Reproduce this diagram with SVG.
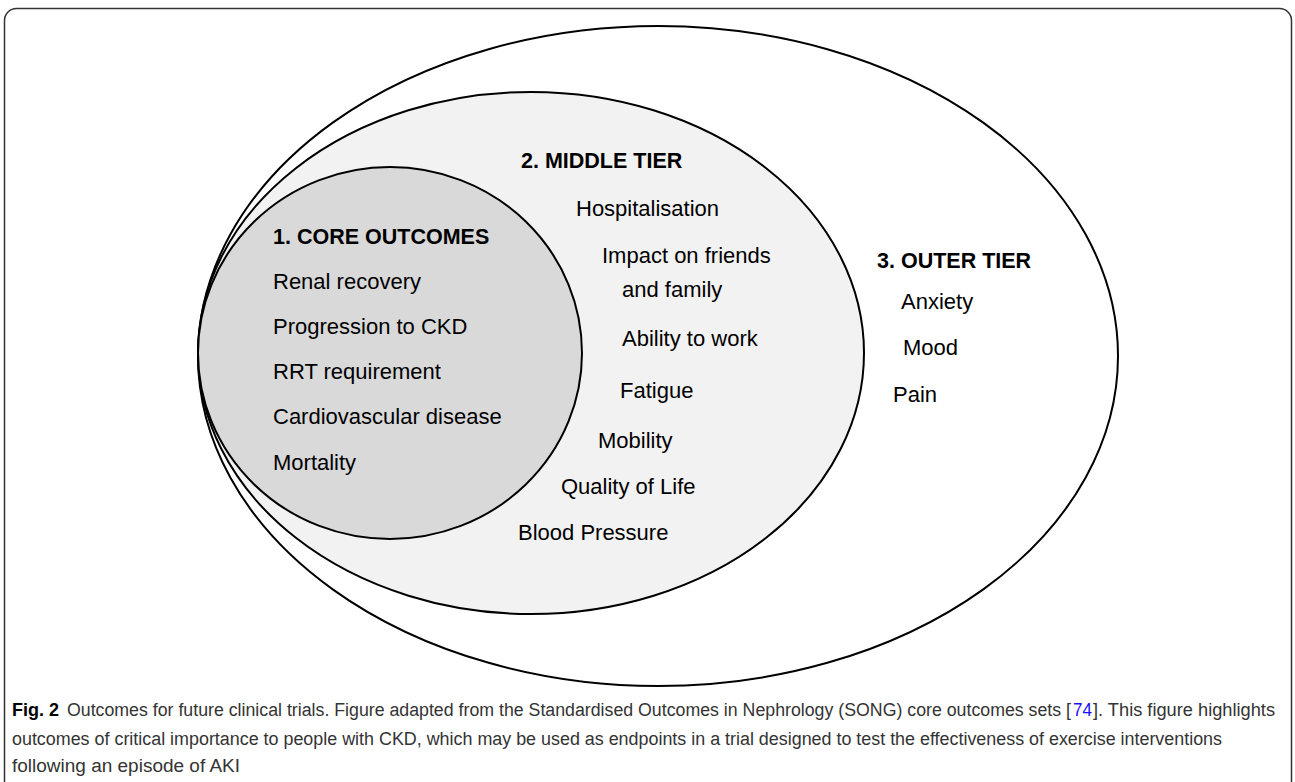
<svg xmlns="http://www.w3.org/2000/svg" width="1295" height="782" viewBox="0 0 1295 782">
<style>
.el{stroke:#000;stroke-width:2}
.t{font-family:"Liberation Sans",Arial,sans-serif;font-size:22px;fill:#000}
.b{font-weight:bold;font-size:21.5px}
.cap{font-family:"Liberation Sans",Arial,sans-serif;font-size:18px;fill:#333}
</style>
<rect x="0" y="0" width="1295" height="782" fill="#fff"/>
<rect id="frame" x="4.5" y="8.5" width="1287" height="800" rx="12" fill="none" stroke="#333" stroke-width="1.5"/>
<g id="outer-tier">
<ellipse class="el" cx="658" cy="356" rx="460" ry="330" fill="#fff"/>
</g>
<g id="middle-tier">
<ellipse class="el" cx="531" cy="353" rx="333" ry="261" fill="#f2f2f2"/>
</g>
<g id="core-outcomes">
<ellipse class="el" cx="390" cy="353" rx="192" ry="186" fill="#d9d9d9"/>
</g>
<g id="core-text">
<text class="t b" x="273" y="244">1. CORE OUTCOMES</text>
<text class="t" x="273" y="289">Renal recovery</text>
<text class="t" x="273" y="334">Progression to CKD</text>
<text class="t" x="273" y="379">RRT requirement</text>
<text class="t" x="273" y="424">Cardiovascular disease</text>
<text class="t" x="273" y="470">Mortality</text>
</g>
<g id="middle-text">
<text class="t b" x="521" y="168">2. MIDDLE TIER</text>
<text class="t" x="576" y="216">Hospitalisation</text>
<text class="t" x="602" y="263">Impact on friends</text>
<text class="t" x="622" y="297">and family</text>
<text class="t" x="622" y="346">Ability to work</text>
<text class="t" x="620" y="398">Fatigue</text>
<text class="t" x="598" y="448">Mobility</text>
<text class="t" x="561" y="494">Quality of Life</text>
<text class="t" x="518" y="540">Blood Pressure</text>
</g>
<g id="outer-text">
<text class="t b" x="877" y="268">3. OUTER TIER</text>
<text class="t" x="901" y="309">Anxiety</text>
<text class="t" x="903" y="355">Mood</text>
<text class="t" x="893" y="402">Pain</text>
</g>
<g id="caption">
<text class="cap" x="12" y="716" font-weight="bold" style="fill:#000">Fig. 2</text>
<text class="cap" x="67" y="716" textLength="1004" lengthAdjust="spacingAndGlyphs">Outcomes for future clinical trials. Figure adapted from the Standardised Outcomes in Nephrology (SONG) core outcomes sets [</text>
<text class="cap" x="1073" y="716" textLength="19" lengthAdjust="spacingAndGlyphs" style="fill:#1a0dff">74</text>
<text class="cap" x="1093" y="716" textLength="182" lengthAdjust="spacingAndGlyphs">]. This figure highlights</text>
<text class="cap" x="12" y="745" textLength="1210" lengthAdjust="spacingAndGlyphs">outcomes of critical importance to people with CKD, which may be used as endpoints in a trial designed to test the effectiveness of exercise interventions</text>
<text class="cap" x="12" y="772" textLength="228" lengthAdjust="spacingAndGlyphs">following an episode of AKI</text>
</g>
</svg>
